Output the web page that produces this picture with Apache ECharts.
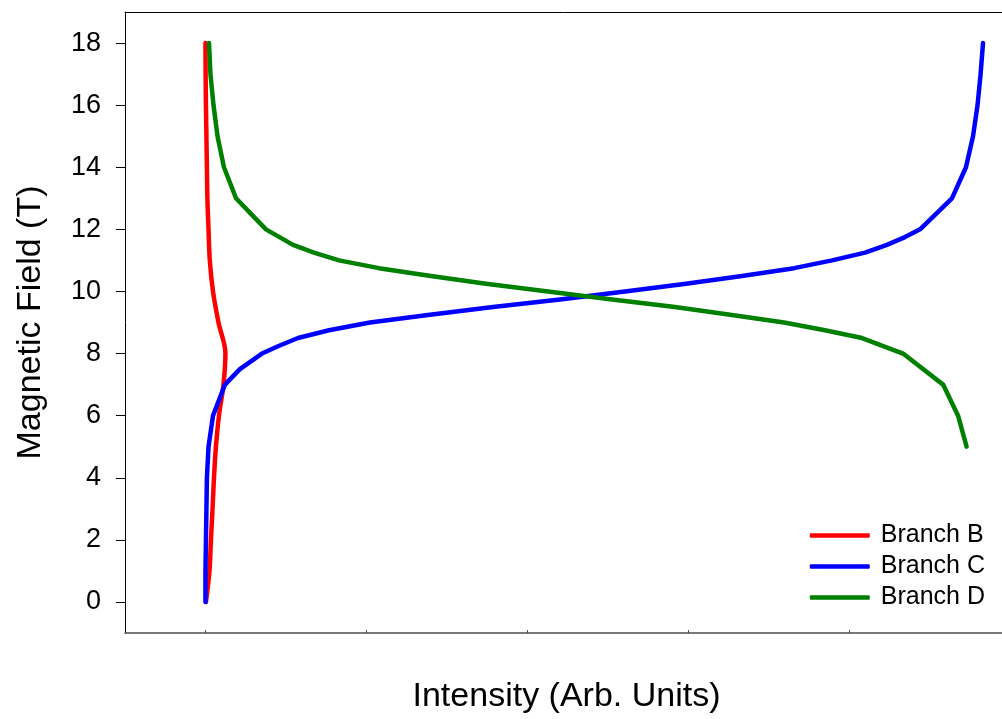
<!DOCTYPE html>
<html>
<head>
<meta charset="utf-8">
<style>
  html, body { margin: 0; padding: 0; background: #ffffff; }
  #chart { width: 1002px; height: 719px; }
</style>
<script src="https://cdn.jsdelivr.net/npm/echarts@6/dist/echarts.min.js"></script>
</head>
<body>
<div id="chart"></div>
<script>
// Branch B
const fieldB = [0, 1, 2, 3, 4, 5, 6, 7, 8, 9, 10, 11, 12, 13, 14, 15, 16, 17, 18];
const intensityB = [0.003, 0.025, 0.034, 0.044, 0.053, 0.065, 0.084, 0.112, 0.124, 0.081, 0.047, 0.027, 0.019, 0.012, 0.009, 0.006, 0.003, 0.001, 0.0];

// Branch C
const fieldC = [0, 1, 2, 3, 4, 5, 6, 7, 7.5, 8, 8.25, 8.5, 8.75, 9, 9.25, 9.5, 9.75, 10, 10.25, 10.5, 10.75, 11, 11.25, 11.5, 11.75, 12, 13, 14, 15, 16, 17, 18];
const intensityC = [0.0, 0.0, 0.003, 0.006, 0.009, 0.019, 0.047, 0.121, 0.214, 0.351, 0.458, 0.575, 0.768, 1.022, 1.395, 1.787, 2.216, 2.607, 2.986, 3.334, 3.658, 3.894, 4.099, 4.235, 4.347, 4.441, 4.639, 4.726, 4.770, 4.798, 4.817, 4.832];

// Branch D
const fieldD = [18, 17, 16, 15, 14, 13, 12.5, 12, 11.5, 11.25, 11, 10.75, 10.5, 10.25, 10, 9.75, 9.5, 9.25, 9, 8.75, 8.5, 8, 7, 6, 5];
const intensityD = [0.022, 0.031, 0.050, 0.075, 0.115, 0.190, 0.283, 0.376, 0.544, 0.674, 0.830, 1.078, 1.401, 1.743, 2.129, 2.514, 2.918, 3.260, 3.596, 3.850, 4.080, 4.335, 4.584, 4.677, 4.730];

// Axis ticks
const fieldTicks = [0, 2, 4, 6, 8, 10, 12, 14, 16, 18];
const intensityTicks = [0, 1, 2, 3, 4];

const pairs = (xs, ys) => xs.map((x, i) => [x, ys[i]]);

const fontFamily = '"Liberation Sans", Arial, sans-serif';

const lineSeries = (name, color, xs, ys, smooth) => ({
  name: name,
  type: 'line',
  data: pairs(xs, ys),
  showSymbol: false,
  symbol: 'none',
  smooth: smooth,
  lineStyle: { color: color, width: 4.5, cap: 'round', join: 'round' },
  itemStyle: { color: color },
  z: 3
});

const chart = echarts.init(document.getElementById('chart'), null, { renderer: 'canvas' });

chart.setOption({
  animation: false,
  backgroundColor: '#ffffff',
  grid: { left: 125, right: 0, top: 12, bottom: 85, containLabel: false },
  legend: {
    orient: 'vertical',
    right: 12,
    top: 518,
    itemWidth: 60,
    itemHeight: 4.5,
    itemGap: 6,
    icon: 'roundRect',
    textStyle: { fontFamily: fontFamily, fontSize: 25, color: '#000000', padding: [0, 0, 0, 6] },
    data: ['Branch B', 'Branch C', 'Branch D']
  },
  xAxis: [
    {
      type: 'value',
      min: -0.5,
      max: 4.95,
      position: 'bottom',
      name: 'Intensity (Arb. Units)',
      nameLocation: 'middle',
      nameGap: 47,
      nameTextStyle: { fontFamily: fontFamily, fontSize: 34, color: '#000000', padding: [0, 0, 0, 6] },
      axisLine: { show: true, onZero: false, lineStyle: { color: '#4d4d4d', width: 1.5 } },
      axisTick: { show: true, inside: true, length: 3, customValues: intensityTicks, lineStyle: { color: '#4d4d4d', width: 1 } },
      axisLabel: { show: false },
      splitLine: { show: false }
    },
    {
      type: 'value',
      min: -0.5,
      max: 4.95,
      position: 'top',
      axisLine: { show: true, onZero: false, lineStyle: { color: '#000000', width: 1 } },
      axisTick: { show: false },
      axisLabel: { show: false },
      splitLine: { show: false }
    }
  ],
  yAxis: {
    type: 'value',
    min: -1,
    max: 19,
    name: 'Magnetic Field (T)',
    nameLocation: 'middle',
    nameGap: 77,
    nameTextStyle: { fontFamily: fontFamily, fontSize: 34, color: '#000000' },
    axisLine: { show: true, onZero: false, lineStyle: { color: '#000000', width: 1 } },
    axisTick: { show: true, inside: false, length: 9, customValues: fieldTicks, lineStyle: { color: '#000000', width: 1 } },
    axisLabel: { show: true, customValues: fieldTicks, margin: 24, fontFamily: fontFamily, fontSize: 27, color: '#000000' },
    splitLine: { show: false }
  },
  series: [
    lineSeries('Branch B', '#ff0000', intensityB, fieldB, 0.35),
    lineSeries('Branch C', '#0000ff', intensityC, fieldC, false),
    lineSeries('Branch D', '#008000', intensityD, fieldD, false)
  ]
});
</script>
</body>
</html>
